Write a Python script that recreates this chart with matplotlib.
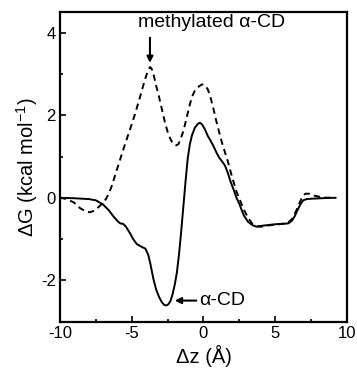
import matplotlib
matplotlib.use("Agg")
import matplotlib.pyplot as plt
from matplotlib.ticker import MultipleLocator

plt.rcParams['font.family'] = ['Liberation Sans', 'DejaVu Sans']
plt.rcParams['mathtext.default'] = 'regular'
plt.rcParams['lines.scale_dashes'] = False

# alpha-CD (solid)
solid_x = [-10, -9, -8, -7.5, -7, -6.6, -6.3, -6.0, -5.8, -5.6, -5.4, -5.1, -4.9, -4.65,
           -4.3, -4.05, -3.85, -3.7, -3.5, -3.3, -3.1, -2.9, -2.75, -2.6, -2.45, -2.3,
           -2.15, -2.0, -1.85, -1.7, -1.55, -1.4, -1.25, -1.1, -0.95, -0.8, -0.6, -0.4,
           -0.25, -0.1, 0.1, 0.3, 0.5, 0.7, 0.9, 1.1, 1.3, 1.5, 1.7, 1.9, 2.1, 2.3, 2.5,
           2.8, 3.1, 3.4, 3.7, 4.0, 4.5, 5.0, 5.5, 5.9, 6.15, 6.35, 6.55, 6.75, 6.95,
           7.2, 7.6, 8.2, 8.8, 9.2]
solid_y = [0, -0.01, -0.03, -0.06, -0.16, -0.3, -0.44, -0.56, -0.62, -0.63, -0.7, -0.87,
           -1.0, -1.12, -1.19, -1.23, -1.38, -1.6, -1.95, -2.22, -2.4, -2.53, -2.59, -2.61,
           -2.58, -2.5, -2.33, -2.1, -1.8, -1.35, -0.8, -0.2, 0.4, 0.95, 1.3, 1.52, 1.7,
           1.79, 1.82, 1.78, 1.66, 1.5, 1.38, 1.25, 1.1, 0.97, 0.88, 0.78, 0.6, 0.38, 0.2,
           0.0, -0.15, -0.42, -0.58, -0.66, -0.7, -0.68, -0.66, -0.64, -0.63, -0.62, -0.56,
           -0.45, -0.3, -0.16, -0.06, -0.03, -0.02, -0.01, 0, 0]

# methylated alpha-CD (dashed)
dash_x = [-10, -9.5, -9.0, -8.6, -8.2, -7.9, -7.6, -7.3, -7.0, -6.8, -6.6, -6.4, -6.2,
          -6.0, -5.7, -5.4, -5.1, -4.8, -4.5, -4.2, -4.0, -3.85, -3.72, -3.6, -3.45, -3.3,
          -3.1, -2.9, -2.7, -2.5, -2.3, -2.1, -1.9, -1.75, -1.6, -1.4, -1.2, -1.0, -0.8,
          -0.6, -0.4, -0.1, 0.1, 0.3, 0.5, 0.7, 0.9, 1.1, 1.3, 1.5, 1.7, 1.9, 2.1, 2.3,
          2.5, 2.8, 3.1, 3.4, 3.7, 4.0, 4.5, 5.0, 5.5, 5.9, 6.2, 6.45, 6.7, 6.9, 7.1,
          7.35, 7.6, 7.9, 8.3, 8.8, 9.2]
dash_y = [0, -0.03, -0.12, -0.25, -0.33, -0.35, -0.31, -0.22, -0.12, -0.03, 0.1, 0.28,
          0.5, 0.72, 1.05, 1.37, 1.68, 2.0, 2.35, 2.72, 2.95, 3.1, 3.17, 3.12, 2.95, 2.72,
          2.45, 2.15, 1.85, 1.6, 1.42, 1.3, 1.27, 1.3, 1.42, 1.62, 1.9, 2.2, 2.45, 2.6,
          2.68, 2.75, 2.73, 2.63, 2.42, 2.15, 1.85, 1.58, 1.32, 1.1, 0.88, 0.62, 0.38,
          0.15, -0.02, -0.28, -0.48, -0.63, -0.69, -0.7, -0.67, -0.65, -0.63, -0.6, -0.5,
          -0.32, -0.12, 0.04, 0.1, 0.1, 0.06, 0.04, 0.01, 0, 0]

x_ticks = [-10, -5, 0, 5, 10]
y_ticks = [-2, 0, 2, 4]

fig = plt.figure(figsize=(3.57, 3.68), dpi=100)
ax = fig.add_axes([0.168, 0.126, 0.804, 0.841])

ax.plot(solid_x, solid_y, color='black', lw=1.4)
ax.plot(dash_x, dash_y, color='black', lw=1.4, linestyle=(0, (4.5, 3.2)))

ax.set_xlim(-10, 10)
ax.set_ylim(-3, 4.5)
ax.set_xticks(x_ticks)
ax.set_yticks(y_ticks)
ax.set_xticklabels([str(v) for v in x_ticks])
ax.set_yticklabels([str(v) for v in y_ticks])
ax.xaxis.set_minor_locator(MultipleLocator(2.5))
ax.yaxis.set_minor_locator(MultipleLocator(1))
ax.tick_params(which='both', direction='in', top=False, right=False, width=1.2, labelsize=12)
ax.tick_params(which='major', length=4, pad=3)
ax.tick_params(which='minor', length=2.5)
for s in ax.spines.values():
    s.set_linewidth(1.6)

ax.set_xlabel('Δz (Å)', fontsize=14.5, labelpad=3)
ax.set_ylabel('ΔG (kcal mol$^{-1}$)', fontsize=14.5, labelpad=1)

ax.annotate('', xy=(-3.73, 3.27), xytext=(-3.73, 3.88),
            arrowprops=dict(arrowstyle='-|>', color='black', lw=1.5, mutation_scale=9,
                            shrinkA=0, shrinkB=0))
ax.text(0.55, 4.25, 'methylated α-CD', ha='center', va='center', fontsize=14)

ax.annotate('', xy=(-2.0, -2.49), xytext=(-0.5, -2.49),
            arrowprops=dict(arrowstyle='-|>', color='black', lw=1.5, mutation_scale=9,
                            shrinkA=0, shrinkB=0))
ax.text(-0.3, -2.49, 'α-CD', ha='left', va='center', fontsize=14)

fig.savefig('out.png', dpi=100)
